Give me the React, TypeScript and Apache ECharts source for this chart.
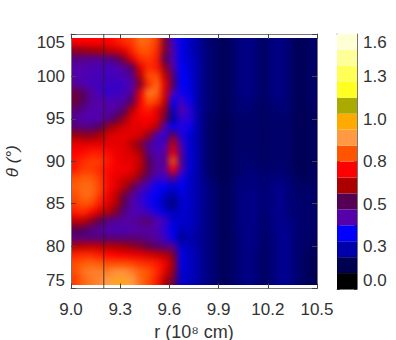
import React, { useEffect, useRef } from "react";
import * as echarts from "echarts";

const barLabels = ["0.0", "0.3", "0.5", "0.8", "1.0", "1.3", "1.6"];
const bandColors = ["#000000", "#000050", "#0000aa", "#0000ff", "#5500aa", "#550055", "#aa0000", "#ff0000", "#ff5500", "#ff9944", "#ffaa00", "#aaaa00", "#ffff22", "#ffff55", "#ffff99", "#ffffd5"];
const markerR = 9.2;
const rStart = 9.0;
const rStep = 0.05;
const thetaTop = 104.5;
const thetaStep = 1.0034;

// rows from top (theta high) to bottom, columns from r = 9.0 outward
const heatRows: number[][] = [
  [.75,.75,.75,.75,.75,.77,.80,.82,.88,.87,.82,.60,.42,.33,.28,.24,.19,.18,.16,.17,.20,.21,.20,.17,.20,.21,.19,.16,.16,.18],
  [.62,.63,.64,.65,.67,.69,.72,.79,.85,.85,.80,.60,.44,.33,.28,.24,.20,.18,.16,.17,.20,.21,.20,.17,.20,.21,.19,.16,.16,.18],
  [.50,.49,.48,.48,.49,.52,.60,.72,.80,.82,.78,.55,.44,.33,.29,.25,.20,.18,.16,.17,.20,.21,.20,.17,.20,.21,.19,.16,.16,.18],
  [.46,.45,.44,.44,.43,.44,.47,.54,.72,.80,.78,.62,.46,.34,.30,.25,.20,.18,.16,.17,.20,.21,.20,.17,.20,.21,.19,.16,.16,.18],
  [.45,.44,.44,.43,.43,.43,.44,.48,.66,.84,.84,.68,.52,.35,.31,.25,.20,.18,.16,.17,.20,.21,.20,.17,.20,.21,.19,.16,.16,.18],
  [.47,.45,.43,.43,.42,.42,.42,.45,.60,.80,.88,.72,.55,.35,.31,.25,.20,.18,.16,.17,.20,.21,.20,.17,.20,.21,.19,.16,.16,.18],
  [.58,.54,.47,.43,.41,.42,.43,.48,.72,.90,.88,.70,.44,.37,.32,.25,.20,.18,.16,.17,.20,.21,.20,.17,.20,.21,.19,.16,.16,.18],
  [.58,.54,.46,.45,.45,.44,.46,.54,.74,.85,.82,.68,.35,.43,.36,.25,.20,.18,.16,.17,.19,.20,.19,.17,.19,.20,.19,.16,.16,.18],
  [.52,.48,.45,.45,.45,.47,.52,.66,.76,.78,.72,.62,.28,.45,.40,.25,.20,.18,.16,.17,.19,.19,.18,.17,.18,.19,.19,.16,.155,.17],
  [.47,.45,.44,.45,.48,.54,.62,.72,.74,.75,.72,.58,.24,.41,.40,.25,.19,.17,.155,.165,.18,.18,.18,.17,.18,.18,.18,.16,.155,.17],
  [.52,.50,.50,.54,.62,.66,.70,.72,.72,.72,.66,.44,.34,.39,.36,.25,.19,.17,.155,.165,.18,.18,.18,.17,.18,.18,.18,.16,.155,.17],
  [.64,.62,.62,.65,.70,.72,.72,.72,.70,.62,.44,.40,.58,.39,.30,.25,.19,.17,.155,.165,.18,.18,.18,.17,.18,.18,.18,.16,.155,.17],
  [.72,.72,.72,.72,.72,.72,.72,.66,.60,.48,.42,.44,.68,.43,.30,.25,.19,.17,.155,.165,.18,.18,.18,.17,.18,.18,.18,.16,.155,.17],
  [.75,.76,.78,.78,.76,.73,.72,.70,.65,.50,.44,.46,.72,.47,.31,.25,.19,.17,.155,.165,.18,.18,.18,.17,.18,.18,.18,.16,.155,.17],
  [.77,.80,.82,.82,.78,.74,.72,.72,.68,.55,.46,.48,.84,.49,.31,.25,.19,.17,.155,.165,.18,.19,.18,.17,.18,.18,.18,.16,.155,.17],
  [.78,.82,.82,.80,.76,.74,.74,.72,.66,.56,.46,.46,.74,.45,.30,.25,.19,.17,.155,.165,.18,.19,.19,.18,.18,.19,.18,.16,.155,.17],
  [.84,.86,.86,.82,.76,.72,.70,.68,.60,.50,.42,.42,.50,.37,.29,.25,.20,.17,.155,.165,.19,.20,.20,.19,.20,.20,.19,.17,.16,.17],
  [.86,.88,.88,.84,.76,.72,.66,.58,.46,.42,.36,.34,.30,.33,.29,.25,.21,.19,.16,.17,.20,.20,.20,.19,.20,.22,.20,.18,.17,.18],
  [.84,.88,.88,.82,.74,.68,.58,.48,.42,.38,.34,.28,.24,.31,.28,.25,.21,.19,.16,.17,.20,.21,.21,.19,.20,.22,.20,.18,.18,.18],
  [.82,.85,.84,.78,.72,.66,.55,.45,.42,.38,.33,.25,.20,.29,.29,.25,.21,.19,.16,.17,.20,.21,.21,.19,.20,.22,.20,.19,.18,.18],
  [.78,.80,.76,.70,.66,.60,.50,.44,.44,.42,.38,.30,.26,.29,.28,.25,.21,.19,.16,.17,.20,.21,.21,.19,.20,.22,.20,.19,.18,.18],
  [.68,.68,.62,.56,.50,.48,.46,.46,.50,.52,.45,.42,.30,.29,.28,.25,.21,.19,.16,.17,.20,.21,.21,.18,.20,.22,.21,.19,.18,.18],
  [.56,.55,.50,.47,.45,.44,.44,.45,.46,.46,.44,.40,.33,.27,.28,.24,.21,.19,.16,.17,.20,.21,.21,.18,.20,.22,.22,.19,.18,.18],
  [.50,.50,.50,.50,.50,.50,.50,.50,.50,.48,.46,.42,.33,.22,.26,.24,.21,.19,.16,.17,.19,.21,.21,.175,.19,.22,.22,.19,.18,.17],
  [.66,.67,.68,.67,.66,.65,.64,.62,.60,.56,.52,.50,.48,.29,.27,.24,.21,.19,.16,.17,.19,.21,.21,.175,.19,.22,.22,.19,.18,.17],
  [.79,.80,.80,.78,.76,.75,.74,.73,.72,.70,.68,.66,.60,.32,.28,.25,.21,.19,.16,.17,.19,.21,.20,.17,.19,.22,.22,.19,.17,.16],
  [.84,.86,.87,.86,.84,.84,.84,.83,.81,.80,.78,.74,.64,.32,.28,.25,.21,.19,.16,.17,.19,.21,.20,.17,.19,.22,.22,.19,.17,.155],
  [.84,.89,.91,.91,.91,.94,.94,.91,.87,.85,.80,.72,.62,.31,.28,.25,.21,.19,.16,.17,.19,.21,.20,.17,.19,.22,.22,.19,.17,.155],
  [.82,.87,.90,.92,.95,1.0,1.0,.95,.88,.84,.78,.66,.58,.29,.27,.25,.21,.19,.16,.17,.19,.21,.20,.17,.19,.22,.22,.19,.17,.155],
];

const FONT = "'Liberation Sans', Arial, sans-serif";
const INK = "#333333";
const FRAME = "#777777";
const PLOT = { left: 71, top: 34, width: 246, height: 254.5 };
const IMG = { left: 71, top: 38, width: 246, height: 247 };
const PAD = 12;
const BAR = { left: 337, top: 34, width: 20, height: 255 };

function heatOption() {
  const data: number[][] = [];
  heatRows.forEach((row, j) =>
    row.forEach((v, i) => data.push([rStart + i * rStep, thetaTop - (j + 1) * thetaStep, v, i, j]))
  );
  const lastCol = heatRows[0].length - 1;
  const lastRow = heatRows.length - 1;
  return {
    animation: false,
    grid: { left: PAD, top: PAD, right: PAD, bottom: PAD, outerBoundsMode: "none" },
    xAxis: { type: "value", min: 9.0, max: 10.5, show: false },
    yAxis: { type: "value", min: thetaTop - (lastRow + 1) * thetaStep, max: thetaTop, show: false },
    visualMap: {
      show: false,
      dimension: 2,
      min: 0.05,
      max: 1.55,
      seriesIndex: 0,
      inRange: { color: bandColors },
    },
    series: [
      {
        type: "custom",
        data,
        encode: { x: 0, y: 1 },
        renderItem: (_: any, api: any) => {
          const a = api.coord([api.value(0), api.value(1) + thetaStep]);
          const b = api.coord([api.value(0) + rStep, api.value(1)]);
          const col = api.value(3);
          const row = api.value(4);
          const x0 = col === 0 ? a[0] - PAD : a[0];
          const x1 = col === lastCol ? b[0] + PAD : b[0];
          const y0 = row === 0 ? a[1] - PAD : a[1];
          const y1 = row === lastRow ? b[1] + PAD : b[1];
          const color = api.visual("color");
          return {
            type: "rect",
            shape: { x: x0, y: y0, width: x1 - x0, height: y1 - y0 },
            style: { fill: color, stroke: color, lineWidth: 1 },
          };
        },
      },
    ],
  };
}

function frameOption() {
  const axisText = { color: INK, fontFamily: FONT, fontSize: 17 };
  const line = { show: true, lineStyle: { color: FRAME, width: 1 } };
  const tick = { show: true, inside: true, length: 5, lineStyle: { color: "#444444", width: 1 } };
  const barStep = 1.6 / 6;
  return {
    animation: false,
    backgroundColor: "transparent",
    grid: [
      { ...PLOT, containLabel: false, outerBoundsMode: "none" },
      { ...BAR, containLabel: false, outerBoundsMode: "none" },
    ],
    xAxis: [
      {
        type: "value", gridIndex: 0, position: "bottom", min: 9.0, max: 10.5, interval: 0.3,
        axisLine: { ...line, onZero: false }, axisTick: tick, splitLine: { show: false },
        axisLabel: { ...axisText, margin: 12, formatter: (v: number) => v.toFixed(1), showMinLabel: true, showMaxLabel: true },
        name: "r (10⁸ cm)", nameLocation: "middle", nameGap: 34,
        nameTextStyle: { ...axisText, fontSize: 18 },
      },
      {
        type: "value", gridIndex: 0, position: "top", min: 9.0, max: 10.5, interval: 0.3,
        axisLine: { ...line, onZero: false }, axisTick: tick, splitLine: { show: false }, axisLabel: { show: false },
      },
      {
        type: "value", gridIndex: 1, position: "bottom", min: 0, max: 1,
        axisLine: { ...line, onZero: false }, axisTick: { show: false }, splitLine: { show: false }, axisLabel: { show: false },
      },
      {
        type: "value", gridIndex: 1, position: "top", min: 0, max: 1,
        axisLine: { ...line, onZero: false }, axisTick: { show: false }, splitLine: { show: false }, axisLabel: { show: false },
      },
    ],
    yAxis: [
      {
        type: "value", gridIndex: 0, position: "left", min: 75, max: 105, interval: 5,
        axisLine: { ...line, onZero: false }, axisTick: tick, splitLine: { show: false },
        axisLabel: { ...axisText, margin: 6, showMinLabel: true, showMaxLabel: true, verticalAlignMinLabel: "bottom", verticalAlignMaxLabel: "top" },
        name: "θ (°)", nameLocation: "middle", nameGap: 50, nameRotate: 90,
        nameTextStyle: { ...axisText, fontStyle: "italic" },
      },
      {
        type: "value", gridIndex: 0, position: "right", min: 75, max: 105, interval: 5,
        axisLine: { ...line, onZero: false }, axisTick: tick, splitLine: { show: false }, axisLabel: { show: false },
      },
      {
        type: "value", gridIndex: 1, position: "right", min: 0, max: 1.6, interval: barStep,
        axisLine: { ...line, onZero: false },
        axisTick: { show: true, inside: true, length: 3, lineStyle: { color: "#333333" } },
        minorTick: { show: true, splitNumber: 2, length: 3, lineStyle: { color: "#333333" } },
        splitLine: { show: false },
        axisLabel: {
          ...axisText, margin: 6, showMinLabel: true, showMaxLabel: true, verticalAlignMinLabel: "bottom", verticalAlignMaxLabel: "top",
          formatter: (v: number) => barLabels[Math.round(v / barStep)],
        },
      },
      {
        type: "value", gridIndex: 1, position: "left", min: 0, max: 1.6, interval: barStep,
        axisLine: { ...line, onZero: false },
        axisTick: { show: true, inside: true, length: 3, lineStyle: { color: "#333333" } },
        minorTick: { show: true, splitNumber: 2, length: 3, lineStyle: { color: "#333333" } },
        splitLine: { show: false }, axisLabel: { show: false },
      },
    ],
    series: [
      {
        type: "custom",
        xAxisIndex: 2,
        yAxisIndex: 2,
        z: 1,
        data: bandColors.map((_, i) => [i * 0.1, i]),
        encode: { y: 0 },
        renderItem: (_: any, api: any) => {
          const a = api.coord([1, api.value(0) + 0.1]);
          const b = api.coord([0, api.value(0)]);
          return {
            type: "rect",
            shape: { x: b[0], y: a[1], width: a[0] - b[0], height: b[1] - a[1] },
            style: { fill: bandColors[api.value(1)] },
          };
        },
      },
      {
        type: "line",
        xAxisIndex: 0,
        yAxisIndex: 0,
        z: 3,
        symbol: "none",
        lineStyle: { color: "#222222", width: 1, opacity: 0.8 },
        data: [[markerR, 75], [markerR, 105]],
      },
    ],
  };
}

export default function App() {
  const heatRef = useRef<HTMLDivElement>(null);
  const frameRef = useRef<HTMLDivElement>(null);
  useEffect(() => {
    const heat = echarts.init(heatRef.current!, null, { renderer: "svg" });
    const frame = echarts.init(frameRef.current!, null, { renderer: "svg" });
    heat.setOption(heatOption() as any);
    frame.setOption(frameOption() as any);
    return () => {
      heat.dispose();
      frame.dispose();
    };
  }, []);
  return (
    <div style={{ position: "fixed", left: 0, top: 0, width: 396, height: 340, background: "#fff" }}>
      <div style={{ position: "absolute", left: IMG.left, top: IMG.top, width: IMG.width, height: IMG.height, overflow: "hidden" }}>
        <div
          ref={heatRef}
          style={{ position: "absolute", left: -PAD, top: -PAD, width: IMG.width + 2 * PAD, height: IMG.height + 2 * PAD, filter: "blur(3px)" }}
        />
      </div>
      <div ref={frameRef} style={{ position: "absolute", left: 0, top: 0, width: 396, height: 340 }} />
    </div>
  );
}
